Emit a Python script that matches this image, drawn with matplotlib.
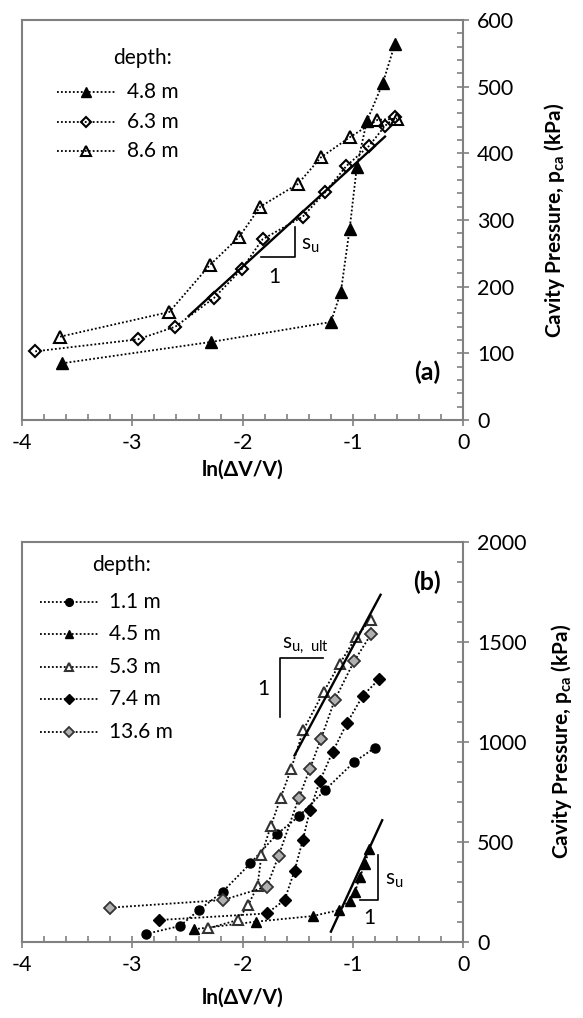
import matplotlib
matplotlib.use("Agg")
import matplotlib.pyplot as plt
from matplotlib.ticker import MultipleLocator

plt.rcParams['font.family'] = ['Lato', 'DejaVu Sans']
plt.rcParams['mathtext.fontset'] = 'custom'
plt.rcParams['mathtext.rm'] = 'Lato'
plt.rcParams['mathtext.bf'] = 'Lato:bold'
plt.rcParams['axes.unicode_minus'] = False

# ---- panel (a) data: ln(dV/V) vs cavity pressure (kPa)
a_labels = ['4.8 m', '6.3 m', '8.6 m']
a_x_48 = [-3.64, -2.29, -1.20, -1.11, -1.03, -0.965, -0.875, -0.73, -0.62]
a_p_48 = [85, 117, 147, 192, 287, 380, 448, 505, 564]
a_x_63 = [-3.88, -2.95, -2.61, -2.26, -2.01, -1.82, -1.455, -1.25, -1.06, -0.855, -0.71, -0.62]
a_p_63 = [103, 121, 140, 183, 226, 271, 305, 342, 381, 411, 441, 454]
a_x_86 = [-3.655, -2.665, -2.30, -2.03, -1.84, -1.50, -1.29, -1.03, -0.78, -0.60]
a_p_86 = [125, 162, 232, 275, 320, 354, 394, 424, 450, 452]
a_fit_x = [-2.49, -0.71]
a_fit_p = [156, 425]
a_tri_x = [-1.83, -1.53, -1.53]
a_tri_p = [244, 244, 290]

# ---- panel (b) data
b_labels = ['1.1 m', '4.5 m', '5.3 m', '7.4 m', '13.6 m']
b_x_11 = [-2.88, -2.57, -2.395, -2.18, -1.93, -1.69, -1.49, -1.25, -0.99, -0.80]
b_p_11 = [38, 78, 158, 250, 391, 537, 627, 760, 898, 970]
b_x_45 = [-2.44, -1.88, -1.365, -1.125, -1.03, -0.98, -0.94, -0.89, -0.855]
b_p_45 = [62, 100, 128, 158, 205, 250, 321, 388, 461]
b_x_53 = [-2.31, -2.045, -1.95, -1.865, -1.83, -1.745, -1.655, -1.56, -1.45, -1.265, -1.12, -0.97, -0.84]
b_p_53 = [67, 108, 183, 278, 432, 577, 720, 865, 1058, 1250, 1389, 1525, 1608]
b_x_74 = [-2.76, -1.78, -1.62, -1.53, -1.455, -1.39, -1.30, -1.185, -1.055, -0.91, -0.76]
b_p_74 = [108, 141, 208, 354, 507, 657, 803, 948, 1092, 1230, 1314]
b_x_136 = [-3.20, -2.18, -1.78, -1.675, -1.49, -1.39, -1.29, -1.165, -0.99, -0.835]
b_p_136 = [170, 208, 275, 428, 720, 865, 1014, 1209, 1402, 1538]
b_fit_ult_x = [-1.53, -0.75]
b_fit_ult_p = [931, 1734]
b_fit_x = [-1.20, -0.735]
b_fit_p = [50, 607]
b_tri_ult_x = [-1.27, -1.66, -1.66]
b_tri_ult_p = [1418, 1418, 1122]
b_tri_x = [-0.94, -0.77, -0.77]
b_tri_p = [208, 208, 432]

GREY = '#808080'
DOT = (0, (1, 1.2))
FS = 15


def style_axes(ax, ymax, ymajor, yminor):
    ax.set_xlim(-4, 0)
    ax.set_ylim(0, ymax)
    for s in ax.spines.values():
        s.set_color(GREY)
        s.set_linewidth(1.5)
    ax.yaxis.tick_right()
    ax.xaxis.set_major_locator(MultipleLocator(1))
    ax.xaxis.set_minor_locator(MultipleLocator(0.2))
    ax.yaxis.set_major_locator(MultipleLocator(ymajor))
    ax.yaxis.set_minor_locator(MultipleLocator(yminor))
    ax.tick_params(axis='x', which='major', direction='inout', length=9,
                   width=1.2, color=GREY, labelsize=15.5, pad=5)
    ax.tick_params(axis='x', which='minor', direction='in', length=4,
                   width=1.2, color=GREY)
    ax.tick_params(axis='y', which='major', direction='inout', length=8,
                   width=1.2, color=GREY, labelsize=15.5, pad=6,
                   left=False, right=True)
    ax.tick_params(axis='y', which='minor', direction='in', length=4,
                   width=1.2, color=GREY, left=False, right=True)
    ax.set_xticklabels([str(int(v)) for v in ax.get_xticks()])
    ax.set_xlabel('ln(ΔV/V)', fontsize=FS, fontweight='bold')
    ax.set_ylabel(r'Cavity Pressure, p$_{\mathbf{ca}}$ (kPa)', fontsize=FS,
                  fontweight='bold')
    ax.yaxis.set_label_position('right')


def draw_key(ax, line, label, y, x0, x1, xt):
    # hand-made legend row: dotted line with the series marker in the middle
    ax.plot([x0, x1], [y, y], transform=ax.transAxes, ls=DOT,
            color='black', lw=line.get_linewidth(), clip_on=False)
    ax.plot([(x0 + x1) / 2], [y], transform=ax.transAxes, ls='none',
            marker=line.get_marker(), ms=line.get_markersize() * 0.85,
            mfc=line.get_markerfacecolor(), mec=line.get_markeredgecolor(),
            mew=line.get_markeredgewidth(), clip_on=False)
    ax.text(xt, y, label, transform=ax.transAxes, fontsize=FS,
            ha='left', va='center')


fig = plt.figure(figsize=(5.83, 10.18), dpi=100)

# ---------------- panel (a)
ax1 = fig.add_axes([0.0377, 0.5874, 0.757, 0.393])
h1, = ax1.plot(a_x_48, a_p_48, ls=DOT, color='black', lw=1.3, marker='^',
               ms=8, mfc='black', mec='black')
h2, = ax1.plot(a_x_63, a_p_63, ls=DOT, color='black', lw=1.3, marker='D',
               ms=6.5, mfc='none', mec='black', mew=1.5)
h3, = ax1.plot(a_x_86, a_p_86, ls=DOT, color='black', lw=1.3, marker='^',
               ms=8, mfc='none', mec='black', mew=1.5)
ax1.plot(a_fit_x, a_fit_p, color='black', lw=1.7)
ax1.plot(a_tri_x, a_tri_p, color='black', lw=1.2)
ax1.text(-1.47, 262, r's$_{\mathregular{u}}$', fontsize=FS, ha='left', va='center')
ax1.text(-1.71, 215, '1', fontsize=FS, ha='center', va='center')
ax1.text(-0.33, 72, '(a)', fontsize=18, fontweight='bold', ha='center', va='center')
style_axes(ax1, 600, 100, 20)
ax1.yaxis.set_label_coords(1.178, 0.5)
ax1.xaxis.set_label_coords(0.5, -0.10)
ax1.text(0.206, 0.905, 'depth:', transform=ax1.transAxes, fontsize=FS,
         ha='left', va='center')
for ln, lab, yy in zip([h1, h2, h3], a_labels, [0.82, 0.745, 0.6725]):
    draw_key(ax1, ln, lab, yy, 0.079, 0.213, 0.238)

# ---------------- panel (b)
ax2 = fig.add_axes([0.0377, 0.0750, 0.757, 0.393])
g1, = ax2.plot(b_x_11, b_p_11, ls=DOT, color='black', lw=1.3, marker='o',
               ms=6.5, mfc='black', mec='black')
g2, = ax2.plot(b_x_45, b_p_45, ls=DOT, color='black', lw=1.3, marker='^',
               ms=7.5, mfc='black', mec='black')
g3, = ax2.plot(b_x_53, b_p_53, ls=DOT, color='black', lw=1.3, marker='^',
               ms=7.5, mfc='white', mec='#333333', mew=1.5)
g4, = ax2.plot(b_x_74, b_p_74, ls=DOT, color='black', lw=1.3, marker='D',
               ms=6, mfc='black', mec='black')
g5, = ax2.plot(b_x_136, b_p_136, ls=DOT, color='black', lw=1.3, marker='D',
               ms=6, mfc='#b0b0b0', mec='#333333', mew=1.3)
ax2.plot(b_fit_ult_x, b_fit_ult_p, color='black', lw=1.7)
ax2.plot(b_fit_x, b_fit_p, color='black', lw=1.7)
ax2.plot(b_tri_ult_x, b_tri_ult_p, color='black', lw=1.2)
ax2.plot(b_tri_x, b_tri_p, color='black', lw=1.2)
ax2.text(-1.64, 1480, r's$_{\mathregular{u,\ ult}}$', fontsize=FS, ha='left', va='center')
ax2.text(-1.81, 1264, '1', fontsize=FS, ha='center', va='center')
ax2.text(-0.71, 308, r's$_{\mathregular{u}}$', fontsize=FS, ha='left', va='center')
ax2.text(-0.855, 118, '1', fontsize=FS, ha='center', va='center')
ax2.text(-0.33, 1795, '(b)', fontsize=18, fontweight='bold', ha='center', va='center')
style_axes(ax2, 2000, 500, 100)
ax2.yaxis.set_label_coords(1.195, 0.5)
ax2.xaxis.set_label_coords(0.5, -0.115)
ax2.text(0.159, 0.942, 'depth:', transform=ax2.transAxes, fontsize=FS,
         ha='left', va='center')
for ln, lab, yy in zip([g1, g2, g3, g4, g5], b_labels,
                       [0.85, 0.769, 0.6875, 0.6068, 0.5243]):
    draw_key(ax2, ln, lab, yy, 0.041, 0.172, 0.197)

fig.savefig('out.png', dpi=100)
